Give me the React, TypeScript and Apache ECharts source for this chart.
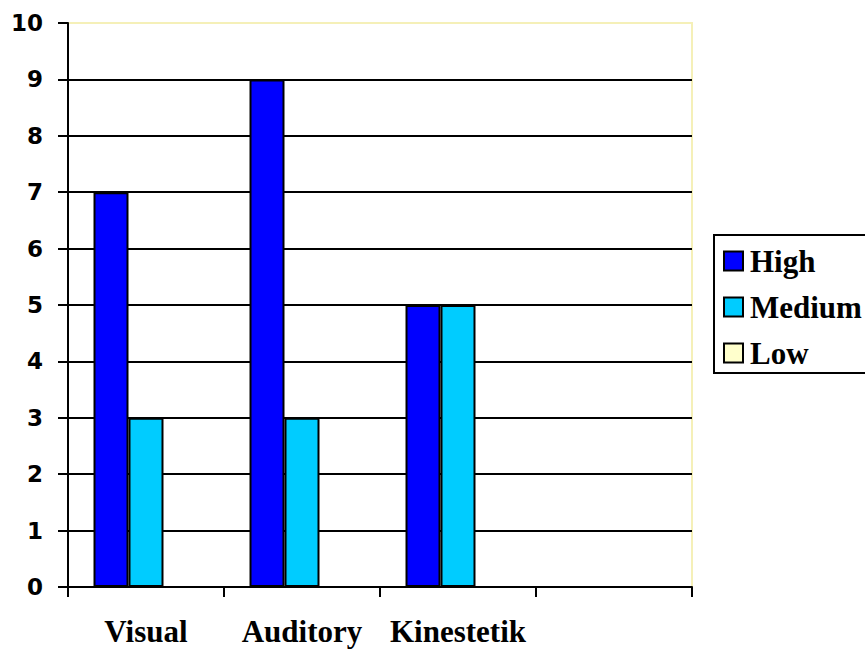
import React, { useEffect, useRef } from "react";
import * as echarts from "echarts";

const categories = ["Visual", "Auditory", "Kinestetik", ""];
const highValues = [7, 9, 5, null];
const mediumValues = [3, 3, 5, null];
const lowValues = [0, 0, 0, null];
const seriesNames = ["High", "Medium", "Low"];
const seriesColors = ["#0000FF", "#00CCFF", "#FFFFCC"];

const SERIF = "Times New Roman";
const SANS = "DejaVu Sans";

export default function App() {
  const ref = useRef<HTMLDivElement>(null);
  useEffect(() => {
    if (!ref.current) return;
    const chart = echarts.init(ref.current, null, { renderer: "svg" });
    const values = [highValues, mediumValues, lowValues];
    chart.setOption({
      animation: false,
      backgroundColor: "#ffffff",
      grid: {
        left: 68,
        right: 173,
        top: 23,
        bottom: 64,
        show: true,
        borderColor: "#f5f0b8",
        borderWidth: 2,
        backgroundColor: "#ffffff",
      },
      graphic: [
        {
          type: "rect",
          z: 0,
          shape: { x: 714, y: 235, width: 220, height: 138 },
          style: { fill: "#ffffff", stroke: "#000", lineWidth: 2 },
        },
      ],
      legend: {
        orient: "vertical",
        left: 723,
        top: 245,
        padding: 0,
        z: 10,
        itemGap: 14,
        itemWidth: 19,
        itemHeight: 19,
        itemStyle: { borderColor: "#000", borderWidth: 2 },
        icon: "rect",
        textStyle: {
          fontFamily: SERIF,
          fontWeight: "bold",
          fontSize: 31,
          lineHeight: 32,
          color: "#000",
          padding: [0, 0, 0, 2],
        },
        data: seriesNames,
      },
      xAxis: {
        type: "category",
        data: categories,
        axisLine: { lineStyle: { color: "#000", width: 2 } },
        axisTick: { show: true, length: 10, interval: 0, lineStyle: { color: "#000", width: 2 } },
        axisLabel: {
          interval: 0,
          margin: 29,
          fontFamily: SERIF,
          fontWeight: "bold",
          fontSize: 31,
          color: "#000",
        },
        splitLine: { show: false },
      },
      yAxis: {
        type: "value",
        min: 0,
        max: 10,
        interval: 1,
        axisLine: { show: true, lineStyle: { color: "#000", width: 2 } },
        axisTick: { show: true, length: 10, lineStyle: { color: "#000", width: 2 } },
        axisLabel: {
          margin: 25,
          fontFamily: SANS,
          fontWeight: "bold",
          fontSize: 23,
          color: "#000",
        },
        splitLine: { show: true, showMaxLine: false, lineStyle: { color: "#000", width: 2 } },
      },
      series: seriesNames.map((name, i) => ({
        name,
        type: "bar",
        data: values[i],
        barGap: "0%",
        barCategoryGap: "32.7%",
        itemStyle: { color: seriesColors[i], borderColor: "#000", borderWidth: 2 },
      })),
    });
    return () => chart.dispose();
  }, []);
  return (
    <div
      ref={ref}
      style={{ position: "fixed", left: 0, top: 0, width: 865, height: 651 }}
    />
  );
}
